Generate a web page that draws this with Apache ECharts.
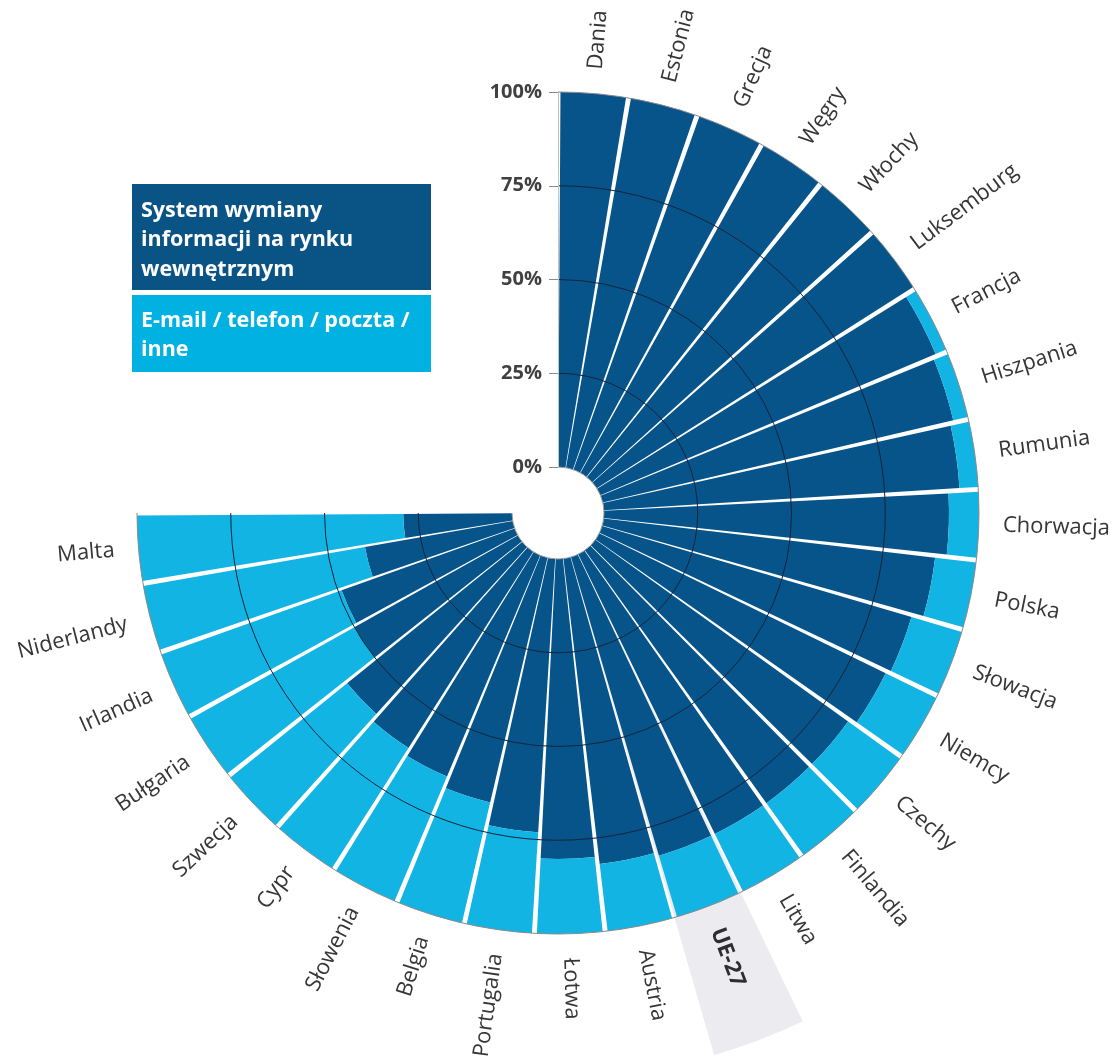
<!DOCTYPE html>
<html><head><meta charset="utf-8">
<script src="https://cdn.jsdelivr.net/npm/echarts@6/dist/echarts.min.js"></script>
<style>html,body{margin:0;padding:0;background:#fff}#c{width:1115px;height:1060px}</style>
</head><body><div id="c"></div>
<script>
const categories = ['Dania','Estonia','Grecja','Węgry','Włochy','Luksemburg','Francja','Hiszpania','Rumunia','Chorwacja','Polska','Słowacja','Niemcy','Czechy','Finlandia','Litwa','UE-27','Austria','Łotwa','Portugalia','Belgia','Słowenia','Cypr','Szwecja','Bułgaria','Irlandia','Niderlandy','Malta'];
const systemShare = [100,100,100,100,100,100,97,96,95,92,89,86,85,83,83,83,83,82,80,73,67,64,62,60,50,49,40,29];
const otherShare = [0,0,0,0,0,0,3,4,5,8,11,14,15,17,17,17,17,18,20,27,33,36,38,40,50,51,60,71];
const radiusTicks = [0,25,50,75,100];
const highlightCategory = 'UE-27';
const legendLabels = ['System wymiany\ninformacji na rynku\nwewnętrznym', 'E-mail / telefon / poczta /\ninne'];

const DARK = '#07548a', LIGHT = '#12b4e3';
const CENTER = [558, 513];

const highlightData = categories.map(c => c === highlightCategory ? 100 : '-');

function renderLabel(params, api) {
  const i = params.dataIndex;
  const p = api.coord([api.value(0), api.value(1)]);
  const cs = params.coordSys;
  const dx = p[0] - cs.cx, dy = p[1] - cs.cy;
  const len = Math.hypot(dx, dy);
  const R = len + 24;
  const x = cs.cx + dx / len * R, y = cs.cy + dy / len * R;
  let ang = Math.atan2(-dy, dx);
  let align = 'left';
  if (ang > Math.PI / 2 + 1e-6 || ang < -Math.PI / 2 - 1e-6) {
    ang = ang > 0 ? ang - Math.PI : ang + Math.PI;
    align = 'right';
  }
  const isHi = categories[i] === highlightCategory;
  return {
    type: 'text', x: x, y: y, rotation: ang,
    style: {
      text: categories[i], align: align, verticalAlign: 'middle',
      fontFamily: 'Open Sans', fontSize: 22,
      fontWeight: isHi ? 'bold' : 'normal',
      fill: isHi ? '#2e2e2e' : '#363636'
    }
  };
}

const chart = echarts.init(document.getElementById('c'));
chart.setOption({
  backgroundColor: '#ffffff',
  animation: false,
  polar: [
    { center: CENTER, radius: [46, 421] },
    { center: CENTER, radius: [46, 564] }
  ],
  angleAxis: [
    { polarIndex: 0, type: 'category', data: categories, startAngle: 90, endAngle: -180, clockwise: true, z: 10,
      axisLine: { show: false },
      axisTick: { show: false }, axisLabel: { show: false }, splitLine: { show: false } },
    { polarIndex: 1, type: 'category', data: categories, startAngle: 90, endAngle: -180, clockwise: true, show: false }
  ],
  radiusAxis: [
    { polarIndex: 0, type: 'value', min: radiusTicks[0], max: radiusTicks[radiusTicks.length - 1], interval: 25, z: 10,
      axisLine: { show: true, lineStyle: { color: '#c4c4c4', width: 1 } },
      axisTick: { show: true, length: 9, lineStyle: { color: '#8a8a8a' } },
      axisLabel: { formatter: '{value}%', fontFamily: 'Open Sans', fontSize: 20, fontWeight: 'bold', color: '#404040', margin: 16 },
      splitLine: { show: true, lineStyle: { color: ['#9a9a9a', '#14243a', '#14243a', '#14243a', '#8a8a8a'], width: 1 } } },
    { polarIndex: 1, type: 'value', min: 0, max: 100, show: false }
  ],
  graphic: [
    { type: 'rect', shape: { x: 132, y: 184, width: 299, height: 106 }, style: { fill: '#0a5485' } },
    { type: 'text', x: 141, y: 196, style: { text: legendLabels[0], fill: '#ffffff', fontFamily: 'Open Sans', fontSize: 21.5, fontWeight: 'bold', lineHeight: 29.5 } },
    { type: 'rect', shape: { x: 132, y: 295, width: 299, height: 77 }, style: { fill: '#00b1e1' } },
    { type: 'text', x: 141, y: 306, style: { text: legendLabels[1], fill: '#ffffff', fontFamily: 'Open Sans', fontSize: 21.5, fontWeight: 'bold', lineHeight: 29.5 } }
  ],
  series: [
    { type: 'bar', coordinateSystem: 'polar', polarIndex: 1, data: highlightData, barCategoryGap: '0%', itemStyle: { color: '#ebebf0' }, z: 1, silent: true },
    { type: 'bar', coordinateSystem: 'polar', polarIndex: 0, stack: 's', data: systemShare, barCategoryGap: '7%', itemStyle: { color: DARK }, z: 2 },
    { type: 'bar', coordinateSystem: 'polar', polarIndex: 0, stack: 's', data: otherShare, barCategoryGap: '7%', itemStyle: { color: LIGHT }, z: 2 },
    { type: 'custom', coordinateSystem: 'polar', polarIndex: 0, data: categories.map((c, i) => [100, i]), renderItem: renderLabel, z: 5, silent: true }
  ]
});
</script></body></html>
